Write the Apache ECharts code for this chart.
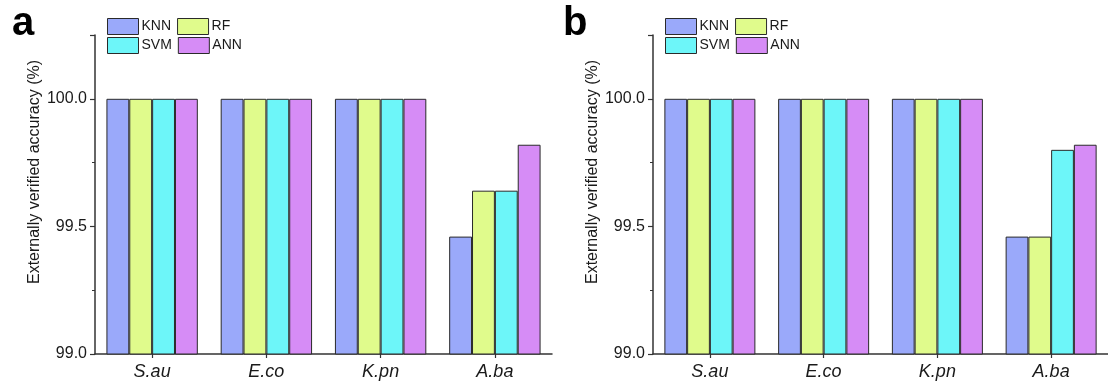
<!DOCTYPE html>
<html>
<head>
<meta charset="utf-8">
<script src="https://cdn.jsdelivr.net/npm/echarts@6/dist/echarts.min.js"></script>
<style>
  html, body { margin: 0; padding: 0; background: #fff; }
  #chart { width: 1108px; height: 389px; }
</style>
</head>
<body>
<div id="chart"></div>
<script>
// Bacterial species (x categories)
const categories = ['S.au', 'E.co', 'K.pn', 'A.ba'];
const modelNames = ['KNN', 'RF', 'SVM', 'ANN'];

// Panel a: externally verified accuracy (%)
const knnA = [100, 100, 100, 99.46];
const rfA  = [100, 100, 100, 99.64];
const svmA = [100, 100, 100, 99.64];
const annA = [100, 100, 100, 99.82];

// Panel b: externally verified accuracy (%)
const knnB = [100, 100, 100, 99.46];
const rfB  = [100, 100, 100, 99.46];
const svmB = [100, 100, 100, 99.80];
const annB = [100, 100, 100, 99.82];

// Y axis range and labelled ticks
const yMin = 99.0;
const yMax = 100.25;
const yStep = 0.5;

const colors = ['#9aa9fa', '#e0fb8c', '#6df6f9', '#d68cf6'];
const font = 'Arial, "Liberation Sans", sans-serif';
const axisColor = '#333';
const textColor = '#1a1a1a';

const chart = echarts.init(document.getElementById('chart'), null, { renderer: 'canvas' });

const grids = [
  { left: 95, top: 35, width: 457, height: 319 },
  { left: 653, top: 35, width: 457, height: 319 }
];

function xAxis(i) {
  return {
    type: 'category', gridIndex: i, data: categories,
    boundaryGap: true,
    axisLine: { lineStyle: { color: axisColor, width: 1.5 } },
    axisTick: { show: true, alignWithLabel: true, length: 4, lineStyle: { color: axisColor, width: 1.2 } },
    minorTick: { show: false },
    axisLabel: { margin: 9, fontFamily: font, fontSize: 18, fontStyle: 'italic', color: textColor },
    splitLine: { show: false }
  };
}

function yAxis(i) {
  return {
    type: 'value', gridIndex: i, min: yMin, max: yMax, interval: yStep,
    axisLine: { show: true, lineStyle: { color: axisColor, width: 1.5 } },
    axisTick: { show: true, length: 5, lineStyle: { color: axisColor, width: 1.2 } },
    minorTick: { show: true, splitNumber: 2, length: 3, lineStyle: { color: axisColor, width: 1 } },
    axisLabel: {
      margin: 8, fontFamily: font, fontSize: 16, color: textColor,
      formatter: v => (Math.abs(v / yStep - Math.round(v / yStep)) < 1e-6 ? v.toFixed(1) : '')
    },
    splitLine: { show: false }
  };
}

const panelData = [
  [knnA, rfA, svmA, annA],
  [knnB, rfB, svmB, annB]
];

const series = [];
panelData.forEach((sets, p) => {
  sets.forEach((vals, k) => {
    series.push({
      name: modelNames[k], type: 'bar',
      xAxisIndex: p, yAxisIndex: p,
      data: vals,
      barGap: '0%', barCategoryGap: '20%',
      itemStyle: { color: colors[k], borderColor: '#2a2a2a', borderWidth: 1 },
      emphasis: { disabled: true }
    });
  });
});

function legend(left, top, names) {
  return {
    left: left, top: top, orient: 'horizontal',
    data: names, icon: 'rect', itemWidth: 31, itemHeight: 16, itemGap: 6,
    selectedMode: false,
    textStyle: { fontFamily: font, fontSize: 14, color: textColor, padding: [0, 0, 0, -2] },
    itemStyle: { borderColor: '#2a2a2a', borderWidth: 1 }
  };
}

chart.setOption({
  animation: false,
  color: colors,
  grid: grids,
  xAxis: [xAxis(0), xAxis(1)],
  yAxis: [yAxis(0), yAxis(1)],
  legend: [
    legend(102, 13, ['KNN', 'RF']),
    legend(102, 32, ['SVM', 'ANN']),
    legend(660, 13, ['KNN', 'RF']),
    legend(660, 32, ['SVM', 'ANN'])
  ],
  series: series,
  graphic: [
    { type: 'text', left: 12, top: 4, style: { text: 'a', fontFamily: font, fontSize: 40, fontWeight: 'bold', fill: '#000' } },
    { type: 'text', left: 563, top: 4, style: { text: 'b', fontFamily: font, fontSize: 40, fontWeight: 'bold', fill: '#000' } },
    { type: 'text', x: 35, y: 172, rotation: Math.PI / 2,
      style: { text: 'Externally verified accuracy (%)', fontFamily: font, fontSize: 16, fill: textColor, align: 'center', verticalAlign: 'middle' } },
    { type: 'text', x: 593, y: 172, rotation: Math.PI / 2,
      style: { text: 'Externally verified accuracy (%)', fontFamily: font, fontSize: 16, fill: textColor, align: 'center', verticalAlign: 'middle' } }
  ]
});
</script>
</body>
</html>
